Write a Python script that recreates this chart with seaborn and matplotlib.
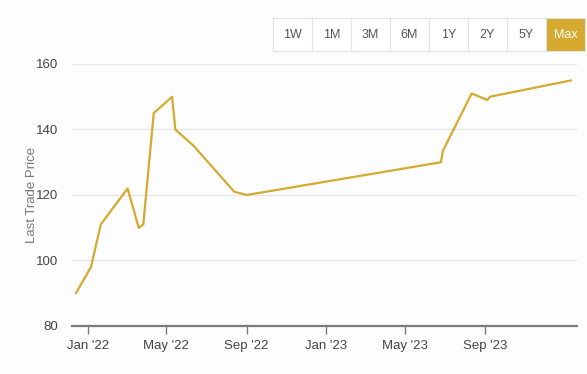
import matplotlib
matplotlib.use("Agg")
import matplotlib.pyplot as plt
import matplotlib.dates as mdates
from matplotlib.patches import Rectangle
import seaborn as sns
import pandas as pd

dates = ["2021-12-14", "2022-01-06", "2022-01-21", "2022-03-03", "2022-03-20",
         "2022-03-27", "2022-04-12", "2022-05-10", "2022-05-15", "2022-06-12",
         "2022-08-13", "2022-09-01", "2023-06-25", "2023-06-28", "2023-08-11",
         "2023-09-04", "2023-09-08", "2024-01-10"]
prices = [90, 98, 111, 122, 110, 111, 145, 150, 140, 135,
          121, 120, 130, 133.5, 151, 149, 150, 155]
yticks = [80, 100, 120, 140, 160]
xticks = ["2022-01-01", "2022-05-01", "2022-09-01", "2023-01-01", "2023-05-01", "2023-09-01"]
buttons = ["1W", "1M", "3M", "6M", "1Y", "2Y", "5Y", "Max"]

df = pd.DataFrame({"date": pd.to_datetime(dates), "price": prices})

sns.set_theme(style="white")
plt.rcParams['font.family'] = ['Liberation Sans', 'DejaVu Sans']

gold = "#D6A92F"
bg = "#FDFDFD"
fig = plt.figure(figsize=(5.87, 3.74), dpi=100, facecolor=bg)
ax = fig.add_axes([72/587, 1-326/374, (577-72)/587, (326-64)/374], facecolor=bg)

sns.lineplot(data=df, x="date", y="price", ax=ax, color=gold, linewidth=1.6)

ax.set_ylim(80, 160)
ax.set_xlim(pd.Timestamp("2021-12-08"), pd.Timestamp("2024-01-19"))
ax.set_yticks(yticks)
ax.set_xticks(pd.to_datetime(xticks))
ax.yaxis.grid(True, color="#E6E6E6", linewidth=1)
ax.xaxis.grid(False)
for s in ["top", "right", "left"]:
    ax.spines[s].set_visible(False)
ax.spines["bottom"].set_color("#7A7A7A")
ax.spines["bottom"].set_linewidth(1.6)

ax.xaxis.set_major_formatter(mdates.DateFormatter("%b '%y"))
ax.tick_params(axis="x", length=6, width=1, color="#7A7A7A", direction="out",
               labelsize=9.5, labelcolor="#444444", pad=4, bottom=True)
ax.tick_params(axis="y", length=0, labelsize=9.5, labelcolor="#444444", pad=10)
ax.set_xlabel("")
ax.set_ylabel("Last Trade Price", fontsize=9.5, color="#777777")
ax.yaxis.set_label_coords(-0.068, 0.5)

# range buttons
x0, y0, w, h = 273, 18, 39.0, 33
for i, b in enumerate(buttons):
    bx = x0 + i * w
    active = b == "Max"
    rect = Rectangle((bx/587, 1-(y0+h)/374), w/587, h/374, transform=fig.transFigure,
                     facecolor=gold if active else "#FFFFFF",
                     edgecolor="#E2E2E2", linewidth=0.8)
    fig.add_artist(rect)
    fig.text((bx + w/2)/587, 1-(y0 + h/2)/374, b, ha="center", va="center",
             fontsize=9, color="#FFFFFF" if active else "#555555")

fig.savefig("out.png", dpi=100, facecolor=bg)
